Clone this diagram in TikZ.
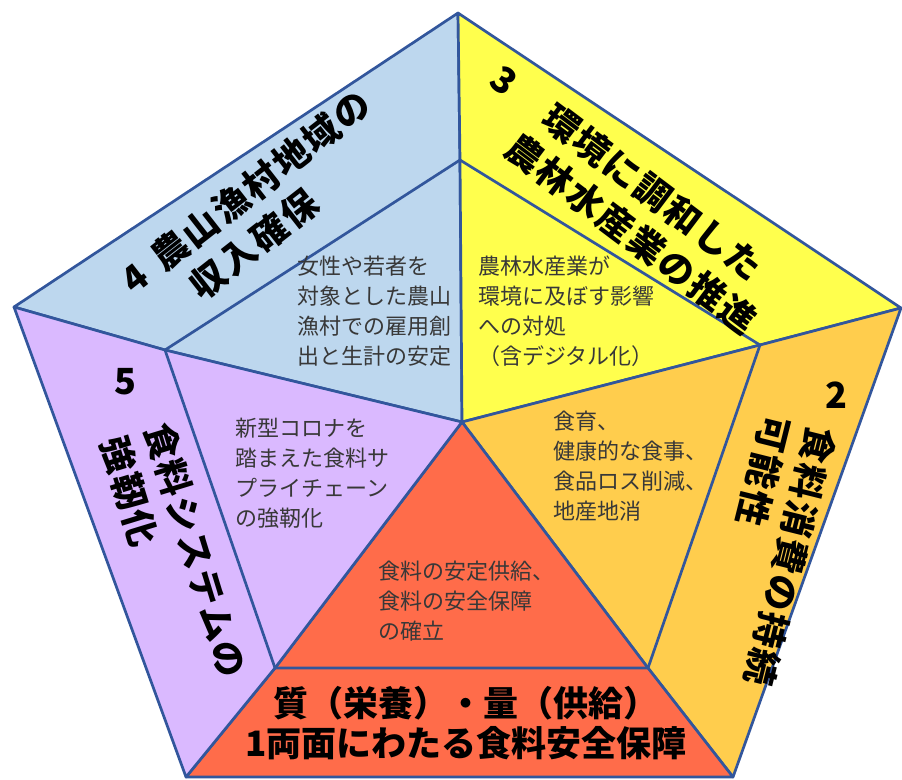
\documentclass[tikz,border=0pt]{standalone}
\usepackage{fontspec}
\newfontfamily\jp{Noto Sans CJK JP}
\newfontfamily\jpt{Noto Sans CJK JP}[LetterSpace=6]
\definecolor{edge}{RGB}{50,86,156}
\definecolor{bluearea}{RGB}{189,215,238}
\definecolor{yellowarea}{RGB}{255,255,77}
\definecolor{orangearea}{RGB}{255,205,77}
\definecolor{purplearea}{RGB}{218,185,255}
\definecolor{redarea}{RGB}{255,108,74}
\begin{document}
\begin{tikzpicture}[x=1pt,y=-1pt,
    area/.style={draw=edge,line width=2.7pt,line join=round},
    title/.style={font=\jpt\bfseries\fontsize{36}{46}\selectfont,align=left,inner sep=0pt},
    note/.style={font=\jp\fontsize{22}{30}\selectfont,text=black!78,align=left,anchor=north west,inner sep=0pt}]
    \useasboundingbox (0,0) rectangle (902,779);

    % corners
    \coordinate (c) at (462,422);
    \coordinate (o1) at (458,13);
    \coordinate (o2) at (901,308);
    \coordinate (o3) at (733,777);
    \coordinate (o4) at (186,777);
    \coordinate (o5) at (14,307);
    \coordinate (i1) at (460,160);
    \coordinate (i2) at (760,345);
    \coordinate (i3) at (648,668);
    \coordinate (i4) at (275,668);
    \coordinate (i5) at (165,350);

    \filldraw[area,fill=bluearea] (c) -- (i5) -- (o5) -- (o1) -- (i1) -- cycle;
    \filldraw[area,fill=yellowarea] (c) -- (i1) -- (o1) -- (o2) -- (i2) -- cycle;
    \filldraw[area,fill=orangearea] (c) -- (i2) -- (o2) -- (o3) -- (i3) -- cycle;
    \filldraw[area,fill=redarea] (c) -- (i3) -- (o3) -- (o4) -- (i4) -- cycle;
    \filldraw[area,fill=purplearea] (c) -- (i4) -- (o4) -- (o5) -- (i5) -- cycle;
    \draw[area] (i1) -- (i2) -- (i3) -- (i4) -- (i5) -- cycle;

    % outer titles
    \node[title,rotate=38] (t4) at (260,210) {4\hspace{0.45em}農山漁村地域の\\\hspace{1.4em}収入確保};
    \node[title,rotate=-37] (t3) at (624,199) {3\hspace{1.2em}環境に調和した\\\hspace{1.5em}農林水産業の推進};
    \node[title,rotate=-104] (t2) at (768,551) {食料消費の持続\\可能性};
    \node[title] (n2) at (836,395) {2};
    \node[title,rotate=-73] (t5) at (174,557) {食料システムの\\強靭化};
    \node[title] (n5) at (125,382) {5};
    \node[title,align=center,font=\jp\bfseries\fontsize{35}{40}\selectfont] (t1) at (466,723) {質（栄養）・量（供給）\\1両面にわたる食料安全保障};

    % inner notes
    \node[note] (nb) at (297,256) {女性や若者を\\対象とした農山\\漁村での雇用創\\出と生計の安定};
    \node[note] (ny) at (478,256) {農林水産業が\\環境に及ぼす影響\\への対処\\（含デジタル化）};
    \node[note] (no) at (553,411) {食育、\\健康的な食事、\\食品ロス削減、\\地産地消};
    \node[note] (np) at (235,418) {新型コロナを\\踏まえた食料サ\\プライチェーン\\の強靭化};
    \node[note] (nr) at (378,561) {食料の安定供給、\\食料の安全保障\\の確立};
\end{tikzpicture}
\end{document}
